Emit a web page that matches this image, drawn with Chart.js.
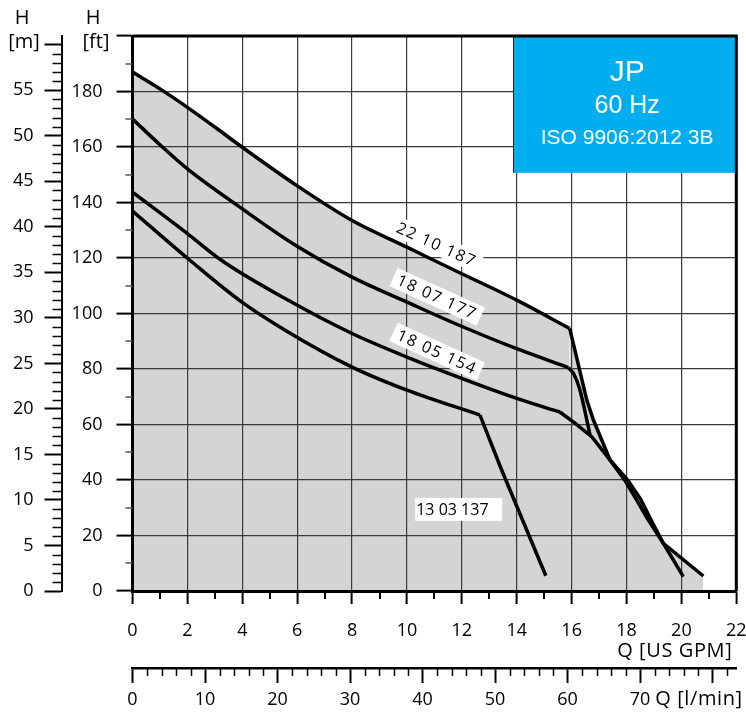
<!DOCTYPE html>
<html>
<head>
<meta charset="utf-8">
<script src="https://cdn.jsdelivr.net/npm/chart.js@4.4.1/dist/chart.umd.min.js"></script>
<style>
  html, body { margin: 0; padding: 0; background: #fff; }
  #wrap { width: 746px; height: 717px; position: relative; }
</style>
</head>
<body>
<div id="wrap"><canvas id="c" width="746" height="717"></canvas></div>
<script>
// ---------------- DATA ----------------
const q_22_10_187 = [0, 1.07, 2, 3, 4, 6, 8, 10, 11.75, 14, 15.93, 16.55, 16.79, 17.4, 17.95, 18.37, 18.75, 19.34, 20.07];
const h_22_10_187 = [187, 180.5, 174.3, 167.2, 159.9, 146, 133.5, 123.9, 115.5, 104.8, 94.6, 68.9, 61.7, 47.2, 39.7, 32.8, 26.3, 17.2, 5.2];

const q_18_07_177 = [0, 1, 2, 4, 5.92, 8, 10, 11.75, 14, 15.88, 16.08, 16.3, 16.67];
const h_18_07_177 = [170.1, 160.8, 152.1, 137.7, 124.7, 113.1, 104.1, 96.4, 87.3, 80.5, 78.2, 72.5, 56.3];

const q_18_05_154 = [0, 2, 3.25, 5.56, 8, 10, 11.2, 14, 15.57, 16.12, 16.74, 17.4, 18.05, 18.52, 18.9, 19.34, 20.8];
const h_18_05_154 = [143.7, 128.8, 119.1, 105.4, 92.8, 84.3, 79.6, 69.4, 64.5, 60.5, 55.5, 47.2, 39.9, 33.0, 25.5, 17.2, 5.4];

const q_13_03_137 = [0, 2.1, 4, 5.56, 8, 10, 12.66, 13.45, 15.06];
const h_13_03_137 = [136.9, 119.1, 104, 94, 80.7, 72.4, 63.4, 43.6, 5.5];

const curveNames = ['22 10 187', '18 07 177', '18 05 154', '13 03 137'];

// tick values / labels
const qTicksGpm = [0, 2, 4, 6, 8, 10, 12, 14, 16, 18, 20, 22];
const qTickLabelsGpm = ['0', '2', '4', '6', '8', '10', '12', '14', '16', '18', '20', '22'];
const qMinorGpm = [1, 3, 5, 7, 9, 11, 13, 15, 17, 19, 21];

const hTicksFt = [0, 20, 40, 60, 80, 100, 120, 140, 160, 180, 200];
const hTickLabelsFt = ['0', '20', '40', '60', '80', '100', '120', '140', '160', '180', ''];
const hMinorFt = [10, 30, 50, 70, 90, 110, 130, 150, 170, 190];

const hTicksM = [0, 5, 10, 15, 20, 25, 30, 35, 40, 45, 50, 55, 60];
const hTickLabelsM = ['0', '5', '10', '15', '20', '25', '30', '35', '40', '45', '50', '55', ''];
const hMinorM = [1,2,3,4,6,7,8,9,11,12,13,14,16,17,18,19,21,22,23,24,26,27,28,29,31,32,33,34,36,37,38,39,41,42,43,44,46,47,48,49,51,52,53,54,56,57,58,59];

const qTicksLmin = [0, 10, 20, 30, 40, 50, 60, 70, 80];
const qTickLabelsLmin = ['0', '10', '20', '30', '40', '50', '60', '70', ''];
const qMinorLmin = [2,4,6,8,12,14,16,18,22,24,26,28,32,34,36,38,42,44,46,48,52,54,56,58,62,64,66,68,72,74,76,78,82];

const FT_PER_M = 3.28084;
const LMIN_PER_GPM = 3.785411784;
const Q_MAX = 22, H_MAX = 200;

// ---------------- STYLE ----------------
const FONT = "'Open Sans', 'Noto Sans', sans-serif";
Chart.defaults.font.family = FONT;
Chart.defaults.color = '#000';

const toPts = (qs, hs) => qs.map((q, i) => ({ x: q, y: hs[i] }));
const curveSet = [
  [q_22_10_187, h_22_10_187],
  [q_18_07_177, h_18_07_177],
  [q_18_05_154, h_18_05_154],
  [q_13_03_137, h_13_03_137]
];
// styling: where the smooth head ends and how the tail is drawn
const cornerIdx = [10, 9, 8, 6];
const tailSmooth = [false, true, false, false];

const baseStyle = {
  showLine: true,
  borderColor: '#000',
  borderWidth: 3.5,
  pointRadius: 0,
  fill: 'origin',
  backgroundColor: '#d4d4d4',
  xAxisID: 'x',
  yAxisID: 'y'
};

const datasets = [];
curveSet.forEach((c, i) => {
  const pts = toPts(c[0], c[1]);
  const k = cornerIdx[i];
  datasets.push(Object.assign({ label: curveNames[i], data: pts.slice(0, k + 1),
    cubicInterpolationMode: 'monotone' }, baseStyle));
  const tail = Object.assign({ label: curveNames[i] + ' tail', data: pts.slice(k) }, baseStyle);
  if (tailSmooth[i]) tail.cubicInterpolationMode = 'monotone'; else tail.tension = 0;
  datasets.push(tail);
});

const setTicks = (vals) => (s) => { s.ticks = vals.map(v => ({ value: v })); };

const labelSpecs = [
  { text: curveNames[0], q: 11.08, h: 124.9, angle: 24.5 },
  { text: curveNames[1], q: 11.1, h: 106.0, angle: 24.5 },
  { text: curveNames[2], q: 11.1, h: 86.2, angle: 24.5 }
];

const extras = {
  id: 'extras',
  afterDatasetsDraw(chart) {
    const { ctx, chartArea: a, scales } = chart;
    const x = scales.x, y = scales.y;
    ctx.save();
    // rotated curve labels with white boxes
    ctx.font = '16px ' + FONT;
    ctx.letterSpacing = '1.5px';
    labelSpecs.forEach(l => {
      const px = x.getPixelForValue(l.q), py = y.getPixelForValue(l.h);
      ctx.save();
      ctx.translate(px, py);
      ctx.rotate(l.angle * Math.PI / 180);
      const w = ctx.measureText(l.text).width;
      ctx.fillStyle = '#fff';
      ctx.fillRect(-w / 2 - 5, -10, w + 10, 20);
      ctx.fillStyle = '#000';
      ctx.textAlign = 'center';
      ctx.textBaseline = 'middle';
      ctx.fillText(l.text, 0, 1);
      ctx.restore();
    });
    // 13 03 137 label (not rotated)
    ctx.letterSpacing = '0px';
    {
      const lx = x.getPixelForValue(10.3), ly = y.getPixelForValue(29.4);
      ctx.fillStyle = '#fff';
      ctx.fillRect(lx, ly - 11.5, 87, 23);
      ctx.fillStyle = '#000';
      ctx.font = '16px ' + FONT;
      ctx.textAlign = 'left';
      ctx.textBaseline = 'middle';
      ctx.fillText(curveNames[3], lx + 1, ly + 1);
    }
    // JP box
    {
      const bx = x.getPixelForValue(13.9), by = y.getPixelForValue(150.7);
      const top = a.top, right = a.right;
      ctx.fillStyle = '#00aeef';
      ctx.fillRect(bx, top, right - bx, by - top);
      ctx.strokeStyle = '#222';
      ctx.lineWidth = 1;
      ctx.beginPath();
      ctx.moveTo(bx - 0.5, top);
      ctx.lineTo(bx - 0.5, by);
      ctx.stroke();
      const cx = (bx + right) / 2 + 2;
      ctx.fillStyle = '#fff';
      ctx.textAlign = 'center';
      ctx.textBaseline = 'middle';
      ctx.font = "30px 'Liberation Sans', Arial, sans-serif";
      ctx.fillText('JP', cx, top + 37);
      ctx.font = "25px 'Liberation Sans', Arial, sans-serif";
      ctx.fillText('60 Hz', cx, top + 70.5);
      ctx.font = "21px 'Liberation Sans', Arial, sans-serif";
      ctx.fillText('ISO 9906:2012 3B', cx, top + 102);
    }
    // top and right frame
    ctx.strokeStyle = '#000';
    ctx.lineWidth = 3;
    ctx.beginPath();
    ctx.moveTo(a.left, a.top);
    ctx.lineTo(a.right, a.top);
    ctx.lineTo(a.right, a.bottom);
    ctx.stroke();
    ctx.restore();
  },
  afterDraw(chart) {
    const { ctx, chartArea: a, scales } = chart;
    const x = scales.x, y = scales.y, y2 = scales.y2, x2 = scales.x2;
    ctx.save();
    ctx.strokeStyle = '#000';
    // minor ticks GPM
    ctx.lineWidth = 2;
    qMinorGpm.forEach(v => {
      const px = Math.round(x.getPixelForValue(v));
      ctx.beginPath(); ctx.moveTo(px, a.bottom); ctx.lineTo(px, a.bottom + 8); ctx.stroke();
    });
    // minor ticks ft
    ctx.strokeStyle = '#555';
    ctx.lineWidth = 1.5;
    hMinorFt.forEach(v => {
      const py = Math.round(y.getPixelForValue(v));
      ctx.beginPath(); ctx.moveTo(a.left - 7, py); ctx.lineTo(a.left, py); ctx.stroke();
    });
    // minor ticks m
    ctx.strokeStyle = '#000';
    ctx.lineWidth = 1.5;
    hMinorM.forEach(v => {
      const py = Math.round(y2.getPixelForValue(v)) + 0.5;
      ctx.beginPath(); ctx.moveTo(y2.right - 9, py); ctx.lineTo(y2.right, py); ctx.stroke();
    });
    // minor ticks l/min
    qMinorLmin.forEach(v => {
      const px = Math.round(x2.getPixelForValue(v)) + 0.5;
      ctx.beginPath(); ctx.moveTo(px, x2.top); ctx.lineTo(px, x2.top + 8); ctx.stroke();
    });
    // axis titles
    ctx.fillStyle = '#000';
    ctx.font = '20px ' + FONT;
    ctx.textAlign = 'center';
    ctx.textBaseline = 'middle';
    ctx.fillText('H', 22, 18);
    ctx.fillText('[m]', 24, 42);
    ctx.fillText('H', 93, 18);
    ctx.fillText('[ft]', 96, 42);
    ctx.letterSpacing = '0.6px';
    ctx.textAlign = 'right';
    ctx.fillText('Q [US GPM]', a.right - 4, 651);
    ctx.textAlign = 'left';
    ctx.fillText('Q [l/min]', x2.getPixelForValue(72.1), 699);
    ctx.restore();
  }
};

const tickFont = { family: FONT, size: 18 };

new Chart(document.getElementById('c'), {
  type: 'scatter',
  data: { datasets },
  options: {
    responsive: false,
    animation: false,
    events: [],
    layout: { padding: { left: 0, top: 36, right: 9.7, bottom: 0 } },
    plugins: {
      legend: { display: false },
      tooltip: { enabled: false },
      filler: { drawTime: 'beforeDraw' }
    },
    scales: {
      x: {
        type: 'linear', position: 'bottom', min: 0, max: Q_MAX, weight: 0,
        afterBuildTicks: setTicks(qTicksGpm),
        ticks: { font: tickFont, color: '#000', padding: 16, maxRotation: 0, autoSkip: false,
                 callback: (v, i) => qTickLabelsGpm[i] },
        grid: { color: '#3a3a3a', lineWidth: 1.2, tickLength: 13, tickColor: '#000', tickWidth: 2 },
        border: { color: '#000', width: 3 },
        afterFit: (s) => { s.height = 77; s.paddingLeft = 0; s.paddingRight = 0; }
      },
      x2: {
        type: 'linear', position: 'bottom', min: 0, max: Q_MAX * LMIN_PER_GPM, weight: 1,
        afterBuildTicks: setTicks(qTicksLmin),
        ticks: { font: tickFont, color: '#000', padding: 6, maxRotation: 0, autoSkip: false,
                 callback: (v, i) => qTickLabelsLmin[i] },
        grid: { drawOnChartArea: false, tickLength: 15, tickColor: '#000', tickWidth: 2 },
        border: { color: '#000', width: 2.5 },
        afterFit: (s) => { s.height = 49; s.paddingLeft = 0; s.paddingRight = 0; }
      },
      y: {
        type: 'linear', position: 'left', min: 0, max: H_MAX, weight: 0,
        afterBuildTicks: setTicks(hTicksFt),
        ticks: { font: tickFont, color: '#000', padding: 14, autoSkip: false,
                 callback: (v, i) => hTickLabelsFt[i] },
        grid: { color: '#3a3a3a', lineWidth: 1.2, tickLength: 16, tickColor: '#000', tickWidth: 2 },
        border: { color: '#000', width: 3 },
        afterFit: (s) => { s.width = 71; }
      },
      y2: {
        type: 'linear', position: 'left', min: 0, max: H_MAX / FT_PER_M, weight: 1,
        afterBuildTicks: setTicks(hTicksM),
        ticks: { font: tickFont, color: '#000', padding: 11, autoSkip: false,
                 callback: (v, i) => hTickLabelsM[i] },
        grid: { drawOnChartArea: false, tickLength: 17, tickColor: '#000', tickWidth: 2 },
        border: { color: '#000', width: 2 },
        afterFit: (s) => { s.width = 61.5; }
      }
    }
  },
  plugins: [extras]
});
</script>
</body>
</html>
